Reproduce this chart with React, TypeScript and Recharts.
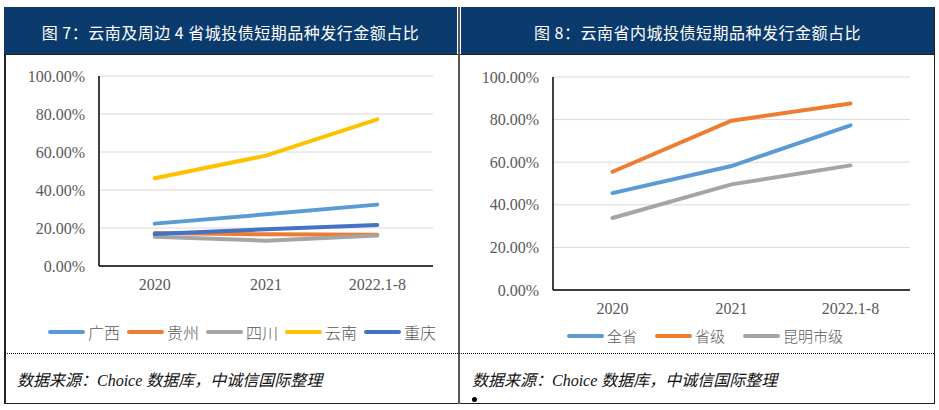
import React from 'react';
import { LineChart, Line, XAxis, YAxis, CartesianGrid, Legend } from 'recharts';

// ---------- data ----------
const categories = ['2020', '2021', '2022.1-8'];

// 图7 (percent)
const guangxi = [22.3, 27.2, 32.3];
const guizhou = [17.4, 16.7, 16.5];
const sichuan = [15.4, 13.3, 16.0];
const yunnan = [46.2, 58.1, 77.2];
const chongqing = [16.8, 19.3, 21.6];

// 图8 (percent)
const quansheng = [45.5, 58.2, 77.3];
const shengji = [55.5, 79.5, 87.6];
const kunming = [33.8, 49.6, 58.5];

const yTicks = [0, 20, 40, 60, 80, 100];

const leftTitle = '图 7：云南及周边 4 省城投债短期品种发行金额占比';
const rightTitle = '图 8：云南省内城投债短期品种发行金额占比';
const sourceText = '数据来源：Choice 数据库，中诚信国际整理';

type Series = { name: string; values: number[]; color: string };

const leftSeries: Series[] = [
  { name: '广西', values: guangxi, color: '#5B9BD5' },
  { name: '贵州', values: guizhou, color: '#ED7D31' },
  { name: '四川', values: sichuan, color: '#A5A5A5' },
  { name: '云南', values: yunnan, color: '#FFC000' },
  { name: '重庆', values: chongqing, color: '#4472C4' },
];

const rightSeries: Series[] = [
  { name: '全省', values: quansheng, color: '#5B9BD5' },
  { name: '省级', values: shengji, color: '#ED7D31' },
  { name: '昆明市级', values: kunming, color: '#A5A5A5' },
];

const buildRows = (series: Series[]) =>
  categories.map((c, i) => {
    const row: Record<string, string | number> = { cat: c };
    series.forEach((s) => {
      row[s.name] = s.values[i];
    });
    return row;
  });

const leftData = buildRows(leftSeries);
const rightData = buildRows(rightSeries);

// ---------- styles ----------
const NAVY = '#0b3a6d';
const TICK_COLOR = '#595959';
const serif = '"Liberation Serif", "Times New Roman", serif';
const cjk = '"Noto Sans CJK SC", sans-serif';

const tickStyle = { fill: TICK_COLOR, fontSize: 16, fontFamily: serif };
const pct = (v: number) => `${v.toFixed(2)}%`;

const makeLegend = (series: Series[], fontSize: number, gap: number) => () => (
  <div style={{ display: 'flex', alignItems: 'center', height: 24 }}>
    {series.map((s) => (
      <div key={s.name} style={{ display: 'flex', alignItems: 'center', marginRight: gap }}>
        <span
          style={{
            display: 'inline-block',
            width: 37,
            height: 4,
            borderRadius: 2,
            background: s.color,
            marginRight: 3,
          }}
        />
        <span style={{ fontSize, color: TICK_COLOR, fontFamily: cjk, lineHeight: '24px', fontWeight: 300 }}>
          {s.name}
        </span>
      </div>
    ))}
  </div>
);

const abs = (l: number, t: number, w: number, h: number): React.CSSProperties => ({
  position: 'absolute',
  left: l,
  top: t,
  width: w,
  height: h,
});

const headerStyle: React.CSSProperties = {
  background: NAVY,
  color: '#fff',
  fontFamily: cjk,
  fontSize: 16,
  display: 'flex',
  alignItems: 'center',
  justifyContent: 'center',
  paddingTop: 3,
  boxSizing: 'border-box',
  letterSpacing: 0.5,
};

const sourceStyle: React.CSSProperties = {
  fontFamily: `"Liberation Serif", ${cjk}`,
  fontStyle: 'italic',
  fontSize: 16,
  color: '#111',
  lineHeight: '24px',
  whiteSpace: 'nowrap',
};

export default function App() {
  return (
    <div style={{ ...abs(0, 0, 939, 410), background: '#fff', overflow: 'hidden' }}>
      {/* headers */}
      <div style={{ ...abs(4, 7, 453, 47), ...headerStyle }}>{leftTitle}</div>
      <div style={{ ...abs(461, 7, 473, 47), ...headerStyle }}>{rightTitle}</div>

      {/* frame */}
      <div style={{ ...abs(4, 54, 931, 1), background: '#222' }} />
      <div style={{ ...abs(4, 54, 1.5, 350), background: '#222' }} />
      <div style={{ ...abs(933.5, 7, 1.5, 397), background: '#222' }} />
      <div style={{ ...abs(4, 402.5, 931, 1.5), background: '#222' }} />
      <div style={{ ...abs(458, 7, 2, 397), background: '#555' }} />
      <div style={{ ...abs(5, 353, 929, 0), borderTop: '1px dotted #000' }} />

      {/* source */}
      <div style={{ ...abs(17, 369, 430, 24), ...sourceStyle }}>{sourceText}</div>
      <div style={{ ...abs(472, 369, 440, 24), ...sourceStyle }}>{sourceText}</div>
      <div style={{ ...abs(471.5, 396.5, 5, 5), borderRadius: '50%', background: '#000' }} />

      {/* left chart */}
      <div style={abs(6, 55, 451, 297)}>
        <LineChart width={451} height={297} data={leftData} margin={{ top: 21, right: 24, left: 0, bottom: 10 }}>
          <CartesianGrid vertical={false} stroke="#d9d9d9" strokeWidth={1} />
          <XAxis
            dataKey="cat"
            tick={tickStyle}
            tickLine={false}
            tickSize={0}
            tickMargin={13}
            height={52}
            axisLine={{ stroke: '#000', strokeWidth: 1.5 }}
            padding={{ left: 55.7, right: 55.7 }}
            interval={0}
          />
          <YAxis
            domain={[0, 100]}
            ticks={yTicks}
            tickFormatter={pct}
            tick={tickStyle}
            tickLine={false}
            tickSize={0}
            tickMargin={14}
            width={93}
            axisLine={{ stroke: '#000', strokeWidth: 1.5 }}
            interval={0}
          />
          <Legend
            verticalAlign="bottom"
            content={makeLegend(leftSeries, 16, 7)}
            wrapperStyle={{ left: 42, width: 409, top: 265, bottom: 'auto' }}
          />
          {leftSeries.map((s) => (
            <Line
              key={s.name}
              type="linear"
              dataKey={s.name}
              name={s.name}
              stroke={s.color}
              strokeWidth={4}
              strokeLinecap="round"
              dot={false}
              activeDot={false}
              isAnimationActive={false}
            />
          ))}
        </LineChart>
      </div>

      {/* right chart */}
      <div style={abs(461, 55, 473, 297)}>
        <LineChart width={473} height={297} data={rightData} margin={{ top: 22, right: 24, left: 0, bottom: 4 }}>
          <CartesianGrid vertical={false} stroke="#d9d9d9" strokeWidth={1} />
          <XAxis
            dataKey="cat"
            tick={tickStyle}
            tickLine={false}
            tickSize={0}
            tickMargin={13}
            height={34}
            axisLine={{ stroke: '#000', strokeWidth: 1.5 }}
            padding={{ left: 59.5, right: 59.5 }}
            interval={0}
          />
          <YAxis
            domain={[0, 100]}
            ticks={yTicks}
            tickFormatter={pct}
            tick={tickStyle}
            tickLine={false}
            tickSize={0}
            tickMargin={14}
            width={92}
            axisLine={{ stroke: '#000', strokeWidth: 1.5 }}
            interval={0}
          />
          <Legend
            verticalAlign="bottom"
            content={makeLegend(rightSeries, 15, 18)}
            wrapperStyle={{ left: 106, width: 367, top: 269, bottom: 'auto' }}
          />
          {rightSeries.map((s) => (
            <Line
              key={s.name}
              type="linear"
              dataKey={s.name}
              name={s.name}
              stroke={s.color}
              strokeWidth={4}
              strokeLinecap="round"
              dot={false}
              activeDot={false}
              isAnimationActive={false}
            />
          ))}
        </LineChart>
      </div>
    </div>
  );
}
